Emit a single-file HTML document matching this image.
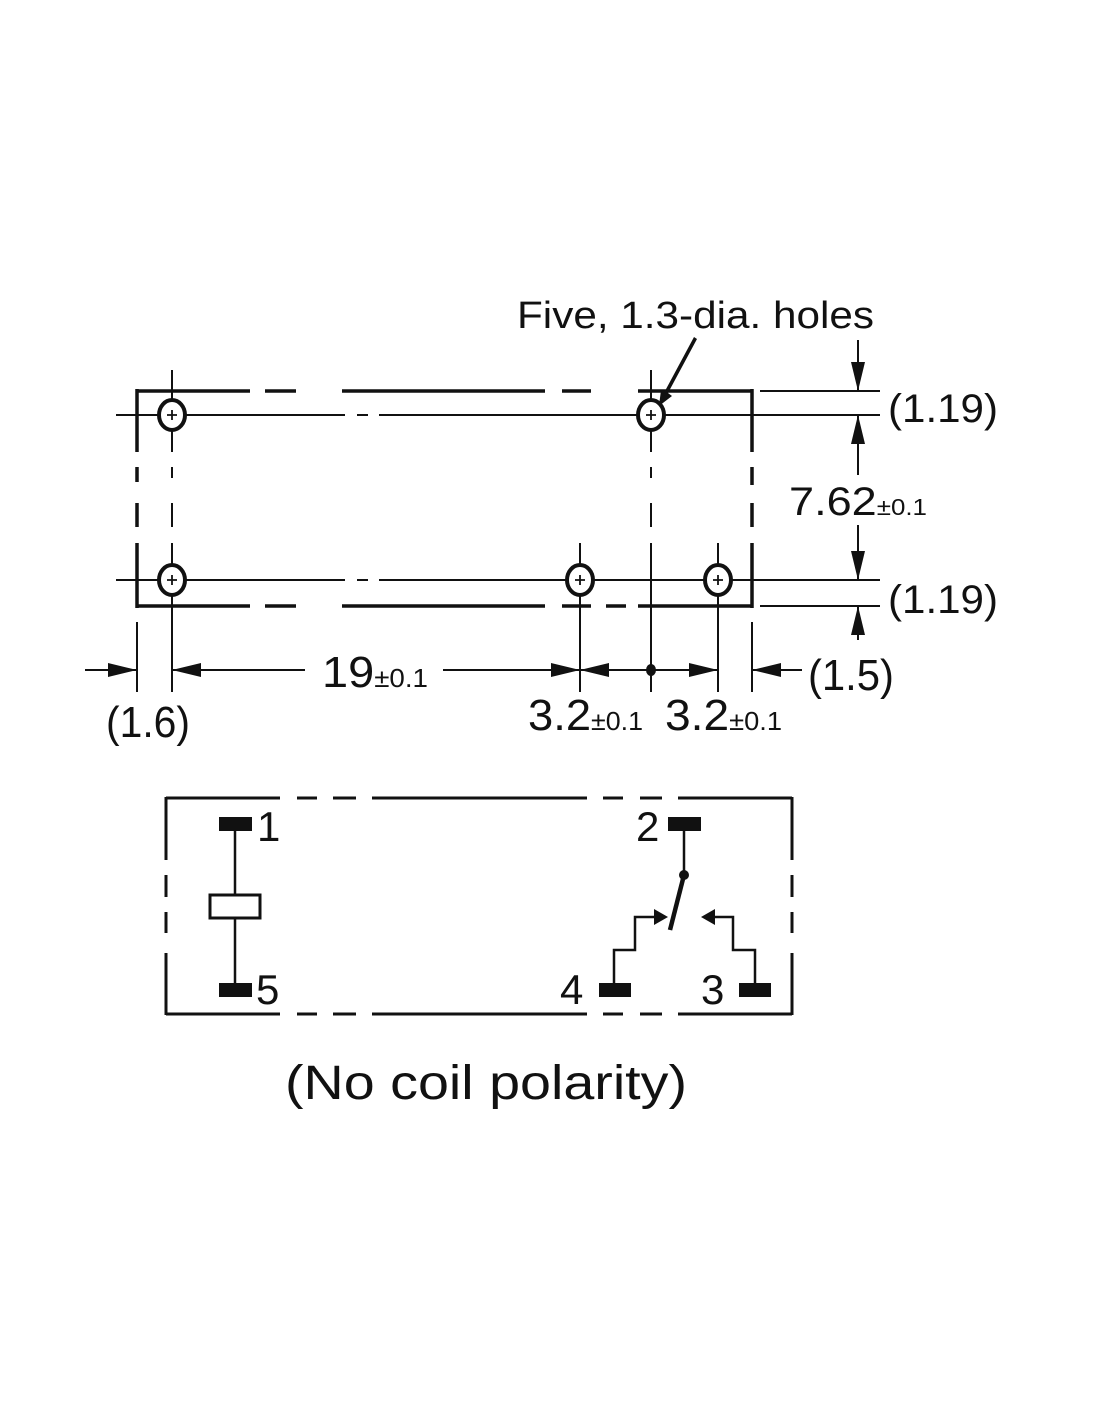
<!DOCTYPE html>
<html><head><meta charset="utf-8"><style>
html,body{margin:0;padding:0;background:#fff}
svg{display:block}
text{font-family:"Liberation Sans",sans-serif;fill:#111}
</style></head><body>
<svg width="1100" height="1422" viewBox="0 0 1100 1422" xmlns="http://www.w3.org/2000/svg">
<g stroke="#111" fill="none">
<g stroke-width="3.5">
<path d="M137,391H250 M265,391H296 M342,391H545 M562,391H591 M638,391H752"/>
<path d="M137,606H250 M265,606H296 M342,606H545 M562,606H591 M606,606H626 M638,606H752"/>
<path d="M137,389V452 M137,467V482 M137,503V527 M137,543V608"/>
<path d="M752,389V452 M752,467V485 M752,503V527 M752,543V608"/>
</g>
<g stroke-width="2">
<path d="M116,415H345 M357,415H368 M379,415H880"/>
<path d="M116,580H345 M357,580H368 M379,580H880"/>
<path d="M172,370V452 M172,467V478 M172,503V527 M172,543V692"/>
<path d="M651,370V452 M651,467V478 M651,503V527 M651,543V692"/>
<path d="M580,543V692 M718,543V692"/>
<path d="M137,622V692 M752,622V692"/>
<path d="M760,391H880 M760,606H880"/>
</g>
</g>
<g fill="#111">
<rect x="857" y="340" width="2" height="51"/>
<path d="M851,362 L865,362 L858,391z"/>
<rect x="857" y="415" width="2" height="60"/>
<path d="M851,444 L865,444 L858,415z"/>
<rect x="857" y="525" width="2" height="55"/>
<path d="M851,551 L865,551 L858,580z"/>
<rect x="857" y="606" width="2" height="34"/>
<path d="M851,635 L865,635 L858,606z"/>
<rect x="85" y="669" width="52" height="2"/>
<path d="M108,663 L108,677 L137,670z"/>
<rect x="172" y="669" width="133" height="2"/>
<path d="M201,663 L201,677 L172,670z"/>
<rect x="443" y="669" width="137" height="2"/>
<path d="M551,663 L551,677 L580,670z"/>
<rect x="580" y="669" width="138" height="2"/>
<path d="M609,663 L609,677 L580,670z"/>
<path d="M689,663 L689,677 L718,670z"/>
<ellipse cx="651" cy="670" rx="5" ry="6"/>
<rect x="752" y="669" width="50" height="2"/>
<path d="M781,663 L781,677 L752,670z"/>
<path d="M694,337 L697,339 L668,393 L672,396 L659,406 L661,390 L665,391z"/>
</g>
<g stroke="#111" fill="#fff" stroke-width="4">
<ellipse cx="172" cy="415" rx="13" ry="15"/>
<ellipse cx="651" cy="415" rx="13" ry="15"/>
<ellipse cx="172" cy="580" rx="13" ry="15"/>
<ellipse cx="580" cy="580" rx="13" ry="15"/>
<ellipse cx="718" cy="580" rx="13" ry="15"/>
</g>
<g stroke="#111" stroke-width="1.8">
<path d="M167,415h10M172,410v10 M646,415h10M651,410v10 M167,580h10M172,575v10 M575,580h10M580,575v10 M713,580h10M718,575v10"/>
</g>
<text x="517" y="328" font-size="38" textLength="357" lengthAdjust="spacingAndGlyphs">Five, 1.3-dia. holes</text>
<text x="888" y="422" font-size="40" textLength="110" lengthAdjust="spacingAndGlyphs">(1.19)</text>
<text x="888" y="613" font-size="40" textLength="110" lengthAdjust="spacingAndGlyphs">(1.19)</text>
<text x="789" y="515" font-size="40" textLength="138" lengthAdjust="spacingAndGlyphs">7.62<tspan font-size="23">±0.1</tspan></text>
<text x="322" y="687" font-size="44" textLength="106" lengthAdjust="spacingAndGlyphs">19<tspan font-size="26">±0.1</tspan></text>
<text x="808" y="690" font-size="44" textLength="86" lengthAdjust="spacingAndGlyphs">(1.5)</text>
<text x="106" y="737" font-size="44" textLength="84" lengthAdjust="spacingAndGlyphs">(1.6)</text>
<text x="528" y="730" font-size="44" textLength="115" lengthAdjust="spacingAndGlyphs">3.2<tspan font-size="26">±0.1</tspan></text>
<text x="665" y="730" font-size="44" textLength="117" lengthAdjust="spacingAndGlyphs">3.2<tspan font-size="26">±0.1</tspan></text>

<g stroke="#111" fill="none" stroke-width="3">
<path d="M166,798H280 M297,798H317 M333,798H356 M372,798H587 M603,798H623 M640,798H662 M678,798H792"/>
<path d="M166,1014H280 M297,1014H317 M333,1014H356 M372,1014H587 M603,1014H623 M640,1014H662 M678,1014H792"/>
<path d="M166,797V860 M166,875V897 M166,912V933 M166,953V1015"/>
<path d="M792,797V860 M792,875V897 M792,912V933 M792,953V1015"/>
<rect x="210" y="895" width="50" height="23"/>
<path d="M235,831V895 M235,918V983" stroke-width="2.5"/>
<path d="M684,831V875" stroke-width="2.5"/>
<path d="M684,875L670,930" stroke-width="4.5"/>
<path d="M614,983V950H635V917H656" stroke-width="2.5"/>
<path d="M755,983V950H733V917H714" stroke-width="2.5"/>
</g>
<g fill="#111">
<rect x="219" y="817" width="33" height="14"/>
<rect x="219" y="983" width="33" height="14"/>
<rect x="668" y="817" width="33" height="14"/>
<rect x="599" y="983" width="32" height="14"/>
<rect x="739" y="983" width="32" height="14"/>
<circle cx="684" cy="875" r="5"/>
<path d="M654,909 L654,925 L668,917z"/>
<path d="M715,909 L715,925 L701,917z"/>
</g>
<text x="257" y="841" font-size="42">1</text>
<text x="256" y="1004" font-size="42">5</text>
<text x="636" y="841" font-size="42">2</text>
<text x="560" y="1004" font-size="42">4</text>
<text x="701" y="1004" font-size="42">3</text>
<text x="285" y="1099" font-size="48" textLength="402" lengthAdjust="spacingAndGlyphs">(No coil polarity)</text>
</svg>
</body></html>
